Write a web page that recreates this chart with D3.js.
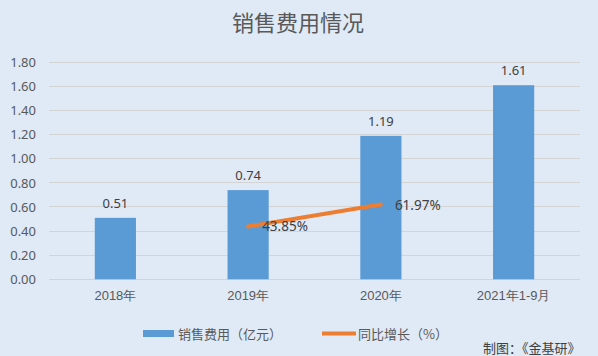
<!DOCTYPE html>
<html><head><meta charset="utf-8">
<script src="https://cdn.jsdelivr.net/npm/d3@7"></script>
<style>
html,body{margin:0;padding:0;background:#dfeaf6;}
svg{display:block;font-family:"Noto Sans CJK SC","Noto Sans",sans-serif;}
</style></head>
<body>
<svg id="c" width="598" height="356"></svg>
<script>
const categories = ["2018年","2019年","2020年","2021年1-9月"];
const salesExpense = [0.51, 0.74, 1.19, 1.61];
const growthCats = ["2019年","2020年"];
const growthPct = [43.85, 61.97];
const yTicks = [0,0.2,0.4,0.6,0.8,1.0,1.2,1.4,1.6,1.8];
const title = "销售费用情况";
const legendLabels = ["销售费用（亿元）","同比增长（%）"];
const source = "制图：《金基研》";

const svg = d3.select("#c");
svg.append("rect").attr("width",598).attr("height",356).attr("fill","#dfeaf6");

const x = d3.scaleBand().domain(categories).range([49,580]).paddingInner(0.69).paddingOuter(0.345);
const y = d3.scaleLinear().domain([0,1.8]).range([279.3,62.3]);

svg.append("text").attr("x",298).attr("y",31).attr("text-anchor","middle")
  .attr("font-size",22).attr("fill","#595959").text(title);

// grid
svg.append("g").selectAll("line").data(yTicks).join("line")
  .attr("x1",49).attr("x2",580).attr("y1",d=>y(d)).attr("y2",d=>y(d))
  .attr("stroke","#d4d4d4").attr("stroke-width",1).attr("shape-rendering","crispEdges");

// y axis labels
const yAxis = d3.axisLeft(y).tickValues(yTicks).tickFormat(d3.format(".2f")).tickSize(0).tickPadding(0);
const ya = svg.append("g").attr("transform","translate(36,0)").call(yAxis);
ya.select(".domain").remove();
ya.selectAll("text").attr("font-size",13).attr("fill","#595959").attr("font-family","'Noto Sans','Liberation Sans',sans-serif");

// x axis labels
const xAxis = d3.axisBottom(x).tickSize(0).tickPadding(0);
const xa = svg.append("g").attr("transform","translate(0,291)").call(xAxis);
xa.select(".domain").remove();
xa.selectAll("text").attr("font-size",13).attr("fill","#595959");

// bars
svg.append("g").selectAll("rect").data(categories).join("rect")
  .attr("x",d=>x(d)).attr("width",x.bandwidth())
  .attr("y",(d,i)=>y(salesExpense[i])).attr("height",(d,i)=>y(0)-y(salesExpense[i]))
  .attr("fill","#5b9bd5");

// bar labels
svg.append("g").selectAll("text").data(categories).join("text")
  .attr("x",d=>x(d)+x.bandwidth()/2).attr("y",(d,i)=>y(salesExpense[i])-10)
  .attr("text-anchor","middle").attr("font-size",13).attr("fill","#404040")
  .attr("font-family","'Noto Sans','Liberation Sans',sans-serif")
  .text((d,i)=>salesExpense[i].toFixed(2));

// line
const cx = c => x(c)+x.bandwidth()/2;
const line = d3.line().x((d,i)=>cx(growthCats[i])).y(d=>y(d/100));
svg.append("path").datum(growthPct).attr("d",line).attr("fill","none")
  .attr("stroke","#ed7d31").attr("stroke-width",4).attr("stroke-linecap","round");
svg.append("g").selectAll("text").data(growthPct).join("text")
  .attr("x",(d,i)=>cx(growthCats[i])+14).attr("y",d=>y(d/100)+5)
  .attr("font-size",13.5).attr("fill","#404040")
  .attr("font-family","'Noto Sans','Liberation Sans',sans-serif")
  .text(d=>d.toFixed(2)+"%");

// legend
svg.append("rect").attr("x",143).attr("y",330).attr("width",31).attr("height",7).attr("fill","#5b9bd5");
svg.append("text").attr("x",178).attr("y",339).attr("font-size",13).attr("fill","#595959").text(legendLabels[0]);
svg.append("line").attr("x1",322).attr("x2",356).attr("y1",333.5).attr("y2",333.5).attr("stroke","#ed7d31").attr("stroke-width",4);
svg.append("text").attr("x",358).attr("y",339).attr("font-size",13).attr("fill","#595959").text(legendLabels[1]);

svg.append("text").attr("x",483).attr("y",353).attr("font-size",13).attr("fill","#404040").text(source);
</script>
</body></html>
